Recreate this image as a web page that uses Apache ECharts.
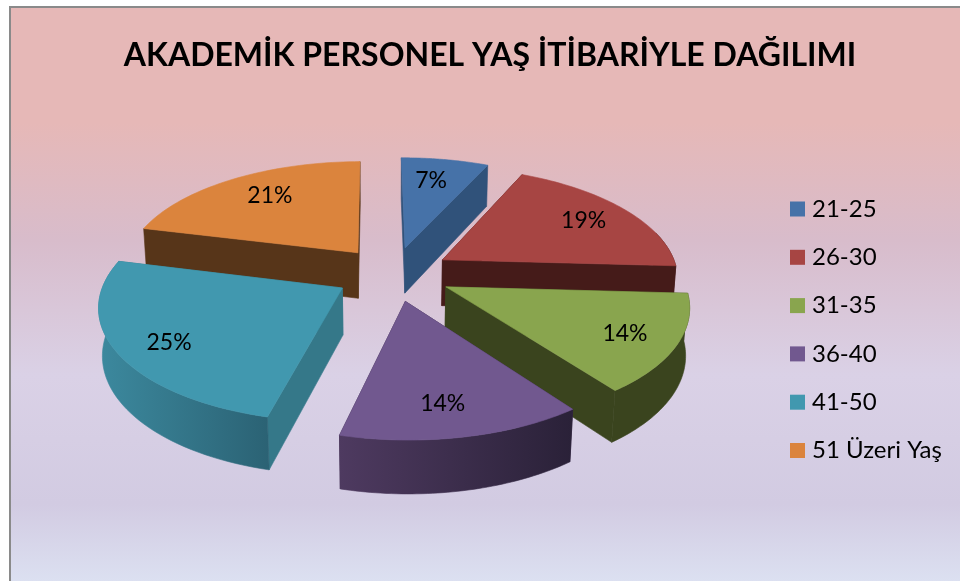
<!DOCTYPE html>
<html><head><meta charset="utf-8">
<style>html,body{margin:0;padding:0;background:#fff}#c{width:960px;height:581px}</style>
<script src="https://cdn.jsdelivr.net/npm/echarts@6/dist/echarts.min.js"></script>
</head><body><div id="c"></div>
<script>
const titleText = 'AKADEMİK PERSONEL YAŞ İTİBARİYLE DAĞILIMI';
const categories = ['21-25','26-30','31-35','36-40','41-50','51 Üzeri Yaş'];
const values = [7,19,14,14,25,21];

const topColors = ['#4672A8','#A74543','#89A54E','#71588F','#4198AF','#DB843D'];
const wallColors = ['#30527A','#451B19','#3A441E','#3A2A4A','#357889','#573519'];
const outerLeft = ['#30527A','#451B19','#3A441E','#4E3A60','#3C899E','#573519'];
const outerRight = ['#30527A','#451B19','#3A441E','#2A2138','#2B6274','#573519'];
const labelNudge = [[-5,1],[3,0],[9,4],[-5,5],[-7,8],[8,-1]];

// 3D view of the exploded pie: centre, radii, perspective, tilt, thickness, explosion
const view = {cx:386.58, cy:273.65, A:235.72, B:109.88, k:0.1439, m:0.0129, D:47.07, e:0.2482, ox:0.0286, rot:-0.0072};

const total = values.reduce((a,b)=>a+b,0);
const slices=[]; let acc=0;
values.forEach(v=>{const a0=acc/total*2*Math.PI; acc+=v; const a1=acc/total*2*Math.PI; slices.push({a0,a1,mid:(a0+a1)/2});});

function proj(s,r,th,z){
 const V=view;
 const Px=V.ox+V.e*Math.sin(s.mid+V.rot)+r*Math.sin(th+V.rot), Py=-V.e*Math.cos(s.mid+V.rot)-r*Math.cos(th+V.rot);
 const w=1-V.k*Py+V.m*z;
 return [V.cx+V.A*Px/w, V.cy+(V.B*Py+V.D*z)/w];
}
const STEPS=48;
function renderSlice(i){return function(){
 const s=slices[i];const pts0=[],frontTop=[],frontBottom=[];
 for(let j=0;j<=STEPS;j++){
  const th=s.a0+(s.a1-s.a0)*j/STEPS;
  pts0.push(proj(s,1,th,0));
  if(Math.cos(th)<0.26){frontTop.push(proj(s,1,th,0));frontBottom.push(proj(s,1,th,1));}
 }
 const a0=proj(s,0,0,0),a1=proj(s,0,0,1);
 const grad=new echarts.graphic.LinearGradient(0,0,1,0,[{offset:0,color:outerLeft[i]},{offset:1,color:outerRight[i]}]);
 const walls=[
  {d:-Math.cos(s.a0)*0.5,pts:[a0,proj(s,1,s.a0,0),proj(s,1,s.a0,1),a1],fill:wallColors[i]},
  {d:-Math.cos(s.a1)*0.5,pts:[a0,proj(s,1,s.a1,0),proj(s,1,s.a1,1),a1],fill:wallColors[i]}
 ];
 if(frontTop.length>1) walls.push({d:-Math.cos(s.mid),pts:frontTop.concat(frontBottom.reverse()),fill:grad});
 walls.sort((a,b)=>a.d-b.d);
 const children=walls.map(w=>({type:'polygon',shape:{points:w.pts},style:{fill:w.fill,stroke:w.fill,lineWidth:0.6}}));
 children.push({type:'polygon',shape:{points:[a0].concat(pts0)},style:{fill:topColors[i],stroke:topColors[i],lineWidth:0.6}});
 const lp=proj(s,0.75,s.mid,0);
 children.push({type:'text',style:{text:Math.round(values[i]/total*100)+'%',x:lp[0]+labelNudge[i][0],y:lp[1]+labelNudge[i][1],align:'center',verticalAlign:'middle',fill:'#000',font:'23px Lato'}});
 return {type:'group',children};
};}
const depthOrder=slices.map((s,i)=>[i,Math.cos(s.mid)]).sort((a,b)=>b[1]-a[1]).map(x=>x[0]);
const series=categories.map((c,i)=>({type:'custom',name:c,coordinateSystem:'none',silent:true,animation:false,z:2+depthOrder.indexOf(i),itemStyle:{color:topColors[i]},data:[[values[i]]],renderItem:renderSlice(i)}));
const chart=echarts.init(document.getElementById('c'),null,{renderer:'canvas'});
chart.setOption({animation:false,
 graphic:[{type:'rect',z:0,shape:{x:10,y:7,width:960,height:584},style:{stroke:'#8a8a8a',lineWidth:2,fill:new echarts.graphic.LinearGradient(0,0,0,1,[{offset:0,color:'#E6B8B7'},{offset:0.2,color:'#E6B8B7'},{offset:0.4,color:'#D8BCCB'},{offset:0.63,color:'#DAD1E6'},{offset:0.85,color:'#D2CBE2'},{offset:1,color:'#DDE3F3'}])}}],
 title:{text:titleText,left:490,top:40,padding:0,textAlign:'center',textStyle:{fontFamily:'Lato',fontWeight:'bold',fontSize:32,color:'#000'}},
 legend:{orient:'vertical',left:790,top:197,padding:0,itemWidth:15,itemHeight:15,itemGap:24.3,icon:'rect',data:categories,selectedMode:false,textStyle:{fontFamily:'Lato',fontSize:24,color:'#000',lineHeight:22,padding:[0,0,0,2]}},
 series});
</script></body></html>
